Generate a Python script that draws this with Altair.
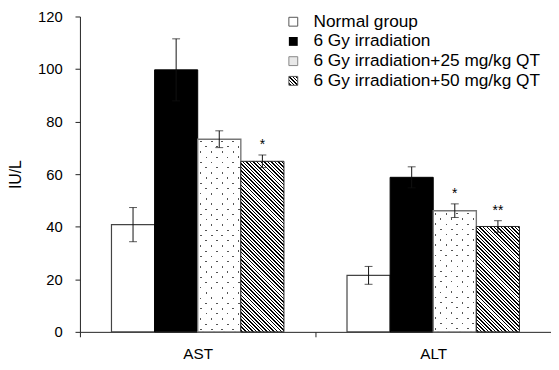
import math
import altair as alt
import pandas as pd

categories = ["AST", "ALT"]
groups = [
    "Normal group",
    "6 Gy irradiation",
    "6 Gy irradiation+25 mg/kg QT",
    "6 Gy irradiation+50 mg/kg QT",
]
ast_mean = [40.8, 99.7, 73.3, 64.9]
ast_err = [6.5, 11.8, 3.2, 2.4]
alt_mean = [21.5, 58.8, 46.1, 40.1]
alt_err = [3.4, 4.0, 2.6, 2.2]
ast_sig = ["", "", "", "*"]
alt_sig = ["", "", "*", "**"]
y_ticks = [0, 20, 40, 60, 80, 100, 120]

# ---- layout constants (style only) ----
W, H = 478, 320
Y_MAX = 120
OUTER = 0.7314
BAR_W = (W / len(categories)) / (len(groups) + 2 * OUTER)
PX_PER_UNIT = H / Y_MAX

rows = []
for cat, means, errs, sigs in [("AST", ast_mean, ast_err, ast_sig), ("ALT", alt_mean, alt_err, alt_sig)]:
    for g, m, e, s in zip(groups, means, errs, sigs):
        rows.append({"category": cat, "group": g, "mean": m, "lo": m - e, "hi": m + e, "sig": s})
df = pd.DataFrame(rows)


def line_gradient(w, h, nx, ny, spacing, frac, on, off):
    corners = [nx * x + ny * y for x in (0, w) for y in (0, h)]
    smin, smax = min(corners), max(corners)
    S = smax - smin
    a, b, c = nx * w / S, ny * h / S, -smin / S
    q = a * a + b * b
    x1, y1 = -c * a / q, -c * b / q
    x2, y2 = x1 + a / q, y1 + b / q
    n = S / spacing
    stops = [alt.GradientStop(offset=0, color=off)]
    k = 0
    while True:
        t0 = (k + 0.5 - frac / 2) / n
        t1 = (k + 0.5 + frac / 2) / n
        if t0 >= 1:
            break
        t1 = min(t1, 1)
        stops += [
            alt.GradientStop(offset=round(t0, 6), color=off),
            alt.GradientStop(offset=round(t0, 6), color=on),
            alt.GradientStop(offset=round(t1, 6), color=on),
            alt.GradientStop(offset=round(t1, 6), color=off),
        ]
        k += 1
    stops.append(alt.GradientStop(offset=1, color=off))
    return alt.LinearGradient(gradient="linear", stops=stops,
                              x1=round(x1, 6), y1=round(y1, 6), x2=round(x2, 6), y2=round(y2, 6))


def hatch(w, h):
    return line_gradient(w, h, 1, -1, 3.6, 0.42, "#000000", "#ffffff")


def dots_a(w, h):
    return line_gradient(w, h, 5.3, -5.5, 58.3, 0.18, "#555555", "#ffffff")


def dots_b(w, h):
    return line_gradient(w, h, 5.3, 5.5, 58.3, 0.18, "rgba(255,255,255,0)", "#ffffff")


x_enc = alt.X(
    "category:N",
    scale=alt.Scale(domain=categories, paddingInner=0, paddingOuter=0),
    axis=alt.Axis(title=None, labelAngle=0, tickBand="extent", tickSize=5,
                  labelPadding=10, labelFontSize=15.5),
)
xo_enc = alt.XOffset("group:N", scale=alt.Scale(domain=groups, paddingOuter=OUTER, paddingInner=0))
y_enc = alt.Y(
    "mean:Q",
    scale=alt.Scale(domain=[0, Y_MAX], nice=False),
    axis=alt.Axis(title="IU/L", values=y_ticks, tickSize=5, labelPadding=13,
                  labelFontSize=15, titleFontSize=16, titleFontWeight="normal",
                  titlePadding=14, grid=False),
)

base = alt.Chart(df).encode(x=x_enc, xOffset=xo_enc, y=y_enc)

layers = []
# normal group
layers.append(base.transform_filter(alt.datum.group == groups[0])
              .mark_bar(fill="#ffffff", stroke="#444444", strokeWidth=1.2))
# 6 Gy
layers.append(base.transform_filter(alt.datum.group == groups[1])
              .mark_bar(fill="#000000", stroke="#000000", strokeWidth=1))
# dotted and hatched, per category
for cat, means in [("AST", ast_mean), ("ALT", alt_mean)]:
    h2 = means[2] * PX_PER_UNIT
    f2 = (alt.datum.group == groups[2]) & (alt.datum.category == cat)
    layers.append(base.transform_filter(f2).mark_bar(fill=dots_a(BAR_W, h2), strokeWidth=0))
    layers.append(base.transform_filter(f2).mark_bar(fill=dots_b(BAR_W, h2), stroke="#777777", strokeWidth=1.4))
    h3 = means[3] * PX_PER_UNIT
    f3 = (alt.datum.group == groups[3]) & (alt.datum.category == cat)
    layers.append(base.transform_filter(f3).mark_bar(fill=hatch(BAR_W, h3), stroke="#222222", strokeWidth=1))

err_base = alt.Chart(df).encode(x=x_enc, xOffset=xo_enc)
layers.append(err_base.mark_rule(color="#111111", strokeWidth=1).encode(y="lo:Q", y2="hi:Q"))
layers.append(err_base.mark_tick(color="#111111", size=8, thickness=1).encode(y="hi:Q"))
layers.append(err_base.mark_tick(color="#111111", size=8, thickness=1).encode(y="lo:Q"))
layers.append(err_base.mark_text(fontSize=14, baseline="bottom", dy=-3, color="#000000")
              .encode(y="hi:Q", text="sig:N"))

# ---- legend ----
LEG_X, LEG_TX, LEG_Y0, LEG_DY, SW = 212, 237, 5.3, 20, 9
one = pd.DataFrame({"k": [0]})
for i, g in enumerate(groups):
    yc = LEG_Y0 + i * LEG_DY
    enc = dict(x=alt.value(LEG_X), x2=alt.value(LEG_X + SW),
               y=alt.value(yc - SW / 2), y2=alt.value(yc + SW / 2))
    if i == 0:
        layers.append(alt.Chart(one).mark_rect(fill="#ffffff", stroke="#555555", strokeWidth=1).encode(**enc))
    elif i == 1:
        layers.append(alt.Chart(one).mark_rect(fill="#000000").encode(**enc))
    elif i == 2:
        layers.append(alt.Chart(one).mark_rect(fill="#e8e8e8", stroke="#888888", strokeWidth=1).encode(**enc))
    else:
        layers.append(alt.Chart(one).mark_rect(fill=hatch(SW, SW), stroke="#555555", strokeWidth=1).encode(**enc))
    layers.append(alt.Chart(pd.DataFrame({"label": [g]})).mark_text(
        align="left", baseline="middle", fontSize=17.5, color="#000000")
        .encode(x=alt.value(LEG_TX), y=alt.value(yc), text="label:N"))

chart = alt.layer(*layers).properties(
    width=W, height=H,
    autosize=alt.AutoSizeParams(type="none"),
    padding={"left": 73, "top": 6, "right": 0, "bottom": 30},
).configure(font="Liberation Sans").configure_view(stroke=None).configure_axis(
    domainColor="#222222", tickColor="#222222", labelColor="#000000", titleColor="#000000",
    labelFont="Liberation Sans", titleFont="Liberation Sans",
)

chart.save("out.html", embed_options={"renderer": "svg", "actions": False})
